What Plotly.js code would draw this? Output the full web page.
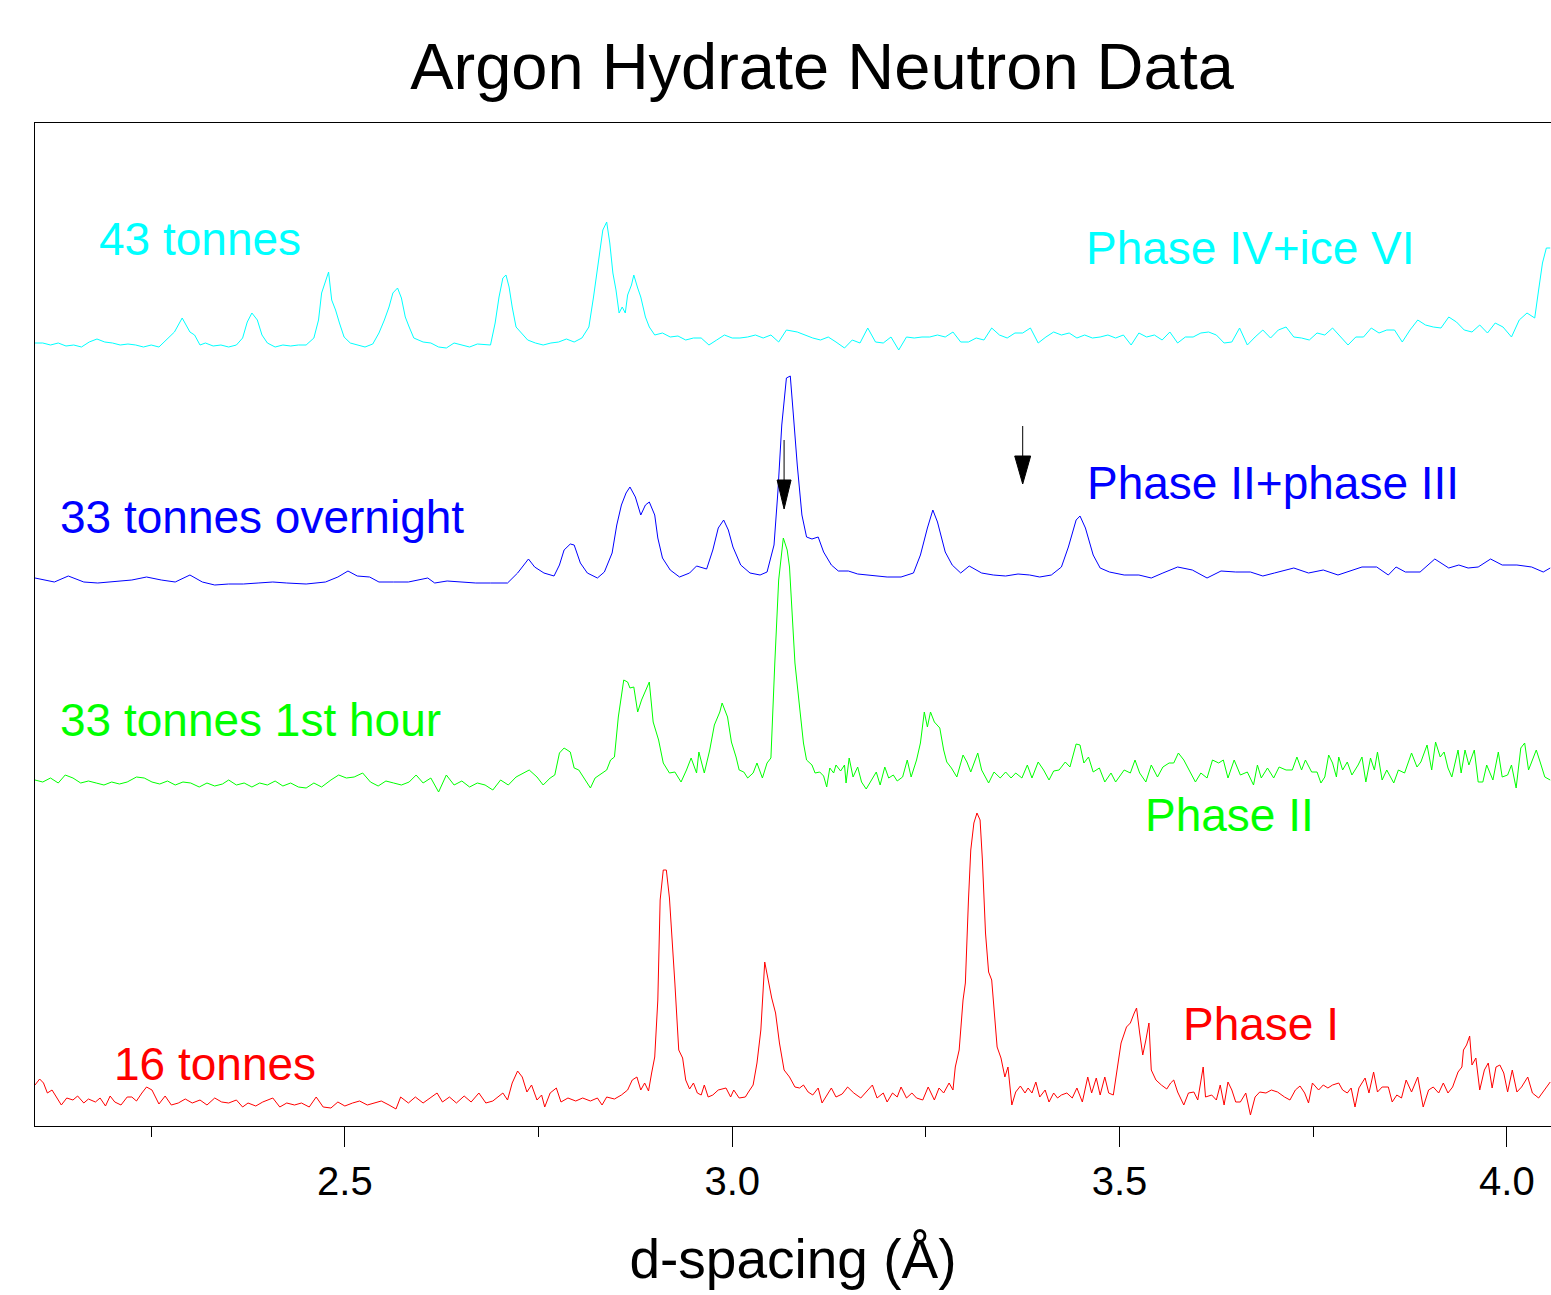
<!DOCTYPE html>
<html><head><meta charset="utf-8">
<script src="https://cdn.plot.ly/plotly-3.0.1.min.js"></script>
<style>html,body{margin:0;padding:0;background:#fff}</style>
</head><body><div id="chart" style="width:1551px;height:1295px"></div>
<script>
// d-spacing (Å) and intensity (arbitrary offset counts)
const dCyan=[2.100,2.110,2.120,2.130,2.140,2.150,2.160,2.170,2.180,2.190,
2.200,2.210,2.220,2.230,2.240,2.250,2.260,2.270,2.280,2.290,
2.295,2.300,2.306,2.313,2.320,2.330,2.340,2.350,2.360,2.368,
2.374,2.380,2.387,2.393,2.400,2.410,2.420,2.430,2.440,2.450,
2.460,2.466,2.470,2.479,2.483,2.488,2.493,2.499,2.507,2.515,
2.526,2.536,2.544,2.551,2.557,2.562,2.568,2.573,2.578,2.583,
2.589,2.601,2.611,2.621,2.631,2.641,2.651,2.661,2.671,2.681,
2.688,2.694,2.699,2.704,2.708,2.712,2.716,2.721,2.727,2.736,
2.746,2.756,2.766,2.776,2.786,2.796,2.806,2.815,2.821,2.827,
2.833,2.838,2.842,2.846,2.850,2.854,2.858,2.862,2.865,2.870,
2.873,2.878,2.882,2.888,2.893,2.900,2.910,2.920,2.930,2.940,
2.950,2.960,2.970,2.980,2.990,3.000,3.010,3.020,3.030,3.040,
3.050,3.060,3.070,
3.084,3.094,3.104,3.114,3.124,3.134,3.145,3.155,3.165,3.175,
3.185,3.195,3.205,3.215,3.225,3.235,3.245,3.255,3.265,3.275,
3.285,3.295,3.305,3.315,3.325,3.335,3.345,3.355,3.365,3.375,
3.385,3.395,3.405,3.415,3.425,3.435,3.445,3.455,3.465,3.475,
3.485,3.495,3.505,3.515,3.525,3.535,3.545,3.555,3.565,3.575,
3.585,3.595,3.605,3.615,3.625,3.635,3.645,3.655,3.665,3.675,
3.685,3.695,3.705,3.715,3.725,3.735,3.745,3.755,3.765,3.775,
3.785,3.795,3.805,3.815,3.825,3.835,3.845,3.855,3.865,3.875,
3.885,3.895,3.905,3.915,3.925,3.935,3.945,3.955,3.965,3.975,
3.985,3.995,4.006,4.016,4.026,4.036,4.041,4.046,4.051,4.056];
const iCyan=[783,783,781,783,780,781,779,784,787,784,
783,781,782,781,779,781,779,786,794,808,
801,794,791,781,783,780,781,779,781,788,
804,813,806,791,783,779,781,780,781,781,
788,806,833,854,826,816,803,789,783,781,
779,782,793,806,819,833,838,828,809,799,
788,784,783,779,778,783,781,779,782,781,
781,803,829,848,851,839,819,799,794,786,
783,781,783,784,787,784,788,799,829,863,
896,904,883,853,836,813,819,813,831,841,
851,838,829,809,799,791,793,789,790,786,
788,788,781,786,791,788,788,789,791,788,
791,784,796,
794,791,788,786,789,784,778,786,783,798,
784,783,789,776,789,788,789,789,791,789,
794,784,784,788,786,798,791,788,793,793,
798,783,789,794,791,793,788,791,788,789,
791,788,791,781,793,789,791,786,794,783,
789,789,793,794,791,783,784,798,781,789,
796,788,796,799,789,788,786,793,791,798,
789,781,789,789,798,793,796,796,784,796,
806,801,799,798,809,804,796,794,801,793,
803,799,789,806,813,808,836,863,878,878];

const dBlue=[2.100,2.125,2.143,2.163,2.181,2.200,2.225,2.244,2.263,2.281,
2.300,2.316,2.332,2.350,2.369,2.388,2.407,2.425,2.450,2.475,
2.491,2.504,2.516,2.532,2.544,2.563,2.582,2.607,2.616,2.632,
2.651,2.669,2.688,2.710,2.723,2.737,2.745,2.757,2.770,2.777,
2.783,2.791,2.796,2.804,2.813,2.826,2.835,2.845,2.851,2.857,
2.863,2.868,2.875,2.882,2.888,2.893,2.900,2.904,2.910,2.920,
2.932,2.945,2.954,2.967,2.975,2.982,2.989,2.995,3.001,3.011,
3.023,3.036,3.045,3.054,3.059,3.064,3.070,3.075,
3.079,3.084,3.090,3.096,3.103,3.111,3.118,3.128,3.137,3.150,
3.162,3.175,3.187,3.200,3.218,3.234,3.243,3.252,3.259,3.265,
3.275,3.284,3.295,3.306,3.322,3.337,3.353,3.369,3.384,3.397,
3.412,3.425,3.434,3.444,3.449,3.456,3.466,3.475,3.487,3.506,
3.525,3.541,3.556,3.575,3.594,3.613,3.631,3.650,3.669,3.685,
3.700,3.725,3.744,3.763,3.782,3.800,3.813,3.832,3.847,3.857,
3.869,3.888,3.907,3.925,3.938,3.950,3.963,3.979,3.994,4.013,
4.032,4.047,4.056];
const iBlue=[548,544,550,544,543,544,546,549,546,544,
551,544,541,542,542,543,544,543,542,544,
549,555,550,549,544,544,544,548,543,545,
544,543,543,543,553,567,559,553,550,561,
576,582,581,563,553,548,554,573,601,621,
633,639,629,611,621,624,611,588,568,556,
549,553,560,557,576,598,606,596,579,561,
553,551,554,581,634,701,748,750,
711,661,611,589,587,589,574,561,555,555,
552,551,550,549,549,553,571,598,616,604,
574,561,553,560,553,551,550,552,551,549,
551,559,579,606,610,598,571,558,554,551,
551,548,553,559,556,548,555,554,554,550,
553,558,553,556,551,556,559,559,551,559,
554,554,567,558,561,558,559,567,561,561,
559,554,558];

const dGreen=[2.100,2.110,2.120,2.130,2.139,2.149,2.159,2.169,2.179,2.189,
2.199,2.209,2.219,2.231,2.241,2.251,2.261,2.271,2.281,2.291,
2.301,2.312,2.322,2.332,2.342,2.350,2.360,2.370,2.380,2.390,
2.400,2.410,2.420,2.430,2.440,2.450,2.460,2.470,2.482,2.492,
2.502,2.512,2.523,2.533,2.543,2.553,2.563,2.573,2.583,2.592,
2.601,2.611,2.621,2.631,2.641,2.651,2.661,2.671,2.681,2.691,
2.701,2.711,2.721,2.731,2.738,2.748,2.756,2.765,2.771,2.777,
2.783,2.791,2.796,2.802,2.808,2.817,2.823,2.832,2.838,2.843,
2.848,2.853,2.860,2.865,2.868,2.873,2.878,2.883,2.888,2.893,
2.898,2.905,2.911,2.919,2.926,2.934,2.941,2.947,2.954,2.957,
2.964,2.971,2.977,2.984,2.987,2.994,2.999,3.005,3.009,3.015,
3.020,3.027,3.032,3.039,3.045,3.050,3.055,3.060,3.066,3.071,
3.074,3.081,3.087,3.092,3.096,3.103,3.107,3.113,3.118,3.122,
3.126,3.131,3.134,3.140,3.145,3.147,3.151,3.156,3.162,3.167,
3.173,3.180,3.186,3.191,3.197,3.202,3.208,3.213,3.220,3.226,
3.231,3.238,3.243,3.248,3.252,3.256,3.261,3.268,3.273,3.277,
3.283,3.290,3.293,3.298,3.303,3.308,3.317,3.322,3.331,3.338,
3.346,3.353,3.360,3.366,3.374,3.381,3.387,3.395,3.402,3.409,
3.415,3.422,3.430,3.436,3.444,3.449,3.454,3.460,3.466,3.474,
3.481,3.489,3.495,3.506,3.514,3.520,3.526,3.534,3.541,3.549,
3.556,3.564,3.570,3.576,3.583,3.591,3.598,3.605,3.613,3.620,
3.628,3.634,3.640,3.648,3.656,3.665,3.673,3.678,3.683,3.691,
3.699,3.706,3.715,3.723,3.729,3.735,3.740,3.748,3.755,3.760,
3.765,3.770,3.775,3.780,3.783,3.788,3.794,3.800,3.808,3.813,
3.818,3.824,3.829,3.833,3.839,3.845,3.854,3.860,3.868,3.877,
3.884,3.889,3.897,3.903,3.908,3.914,3.919,3.924,3.929,3.937,
3.941,3.946,3.951,3.958,3.963,3.969,3.974,3.982,3.989,3.994,
4.001,4.006,4.012,4.018,4.023,4.028,4.033,4.038,4.043,4.049,
4.056];
const iGreen=[346,344,348,343,351,348,343,345,343,341,
344,342,344,349,348,344,342,345,341,344,
343,339,343,340,342,346,341,343,339,343,
341,345,340,343,339,338,343,339,346,351,
348,349,353,344,340,345,343,341,344,351,
343,348,334,351,341,345,339,343,341,336,
346,341,349,353,356,349,341,348,351,373,
378,374,358,356,349,338,348,353,356,366,
369,409,446,444,438,439,414,426,436,444,
404,386,363,353,354,344,356,368,353,374,
353,376,401,414,423,409,384,369,356,354,
348,353,363,348,363,368,463,546,588,576,
559,463,419,383,366,361,353,354,350,339,
358,353,361,355,361,343,368,349,359,344,
337,346,354,341,359,348,351,345,349,366,
349,366,383,414,399,414,404,398,376,364,
358,349,358,371,364,354,373,356,343,354,
348,354,348,353,348,361,348,364,356,346,
355,356,364,359,382,381,363,369,354,358,
344,353,344,356,353,366,353,344,361,349,
359,363,363,373,366,354,344,353,348,366,
363,366,348,366,351,354,341,361,348,358,
348,359,356,356,369,356,366,354,354,343,
349,371,363,349,369,356,364,351,361,369,
344,368,356,374,346,356,343,356,353,373,
359,364,381,356,384,369,374,358,349,376,
353,376,361,376,344,344,361,346,374,349,
351,361,338,378,383,356,366,376,364,349,
346];

const dRed=[2.100,2.106,2.111,2.116,2.122,2.128,2.134,2.141,2.149,2.155,
2.163,2.169,2.178,2.184,2.191,2.197,2.203,2.211,2.219,2.225,
2.231,2.238,2.244,2.251,2.260,2.268,2.276,2.285,2.294,2.303,
2.313,2.322,2.332,2.341,2.350,2.360,2.368,2.375,2.385,2.394,
2.407,2.416,2.425,2.435,2.444,2.454,2.463,2.472,2.482,2.491,
2.500,2.510,2.519,2.529,2.538,2.547,2.557,2.566,2.572,2.582,
2.591,2.601,2.610,2.619,2.626,2.635,2.644,2.654,2.663,2.673,
2.682,2.691,2.704,2.710,2.716,2.723,2.729,2.735,2.741,2.748,
2.754,2.758,2.765,2.773,2.779,2.788,2.798,2.807,2.817,2.826,
2.832,2.838,2.848,2.857,2.865,2.871,2.877,2.882,2.887,2.892,
2.896,2.900,2.904,2.907,2.911,2.915,2.919,2.922,2.926,2.931,
2.936,2.940,2.945,2.950,2.955,2.960,2.964,2.969,2.975,2.982,
2.992,2.998,3.002,3.009,3.017,3.021,3.027,3.032,3.037,3.042,
3.046,3.051,3.056,3.061,3.067,3.074,3.081,3.087,3.092,3.098,
3.104,3.111,3.116,3.122,3.128,3.134,3.142,3.149,3.157,3.166,
3.173,3.181,3.187,3.195,3.200,3.207,3.213,3.218,3.225,3.232,
3.238,3.246,3.253,3.261,3.267,3.273,3.280,3.285,3.288,3.293,
3.298,3.301,3.305,3.308,3.312,3.316,3.320,3.323,3.327,3.331,
3.335,3.339,3.342,3.347,3.352,3.356,3.361,3.366,3.372,3.378,
3.382,3.387,3.392,3.397,3.404,3.409,3.415,3.420,3.425,3.432,
3.439,3.445,3.452,3.459,3.464,3.470,3.475,3.481,3.486,3.492,
3.497,3.502,3.509,3.514,3.519,3.522,3.526,3.530,3.534,3.538,
3.541,3.547,3.554,3.561,3.566,3.570,3.575,3.583,3.589,3.596,
3.601,3.608,3.611,3.619,3.625,3.630,3.635,3.640,3.645,3.650,
3.656,3.663,3.669,3.675,3.681,3.689,3.696,3.704,3.713,3.720,
3.727,3.733,3.739,3.744,3.749,3.757,3.763,3.769,3.775,3.783,
3.788,3.794,3.799,3.804,3.809,3.817,3.822,3.828,3.833,3.839,
3.847,3.852,3.858,3.864,3.870,3.877,3.885,3.892,3.899,3.905,
3.912,3.918,3.924,3.930,3.937,3.942,3.944,3.948,3.952,3.955,
3.960,3.965,3.971,3.976,3.981,3.986,3.991,3.996,4.001,4.007,
4.013,4.019,4.027,4.033,4.041,4.048,4.056];
const iRed=[41,47,43,33,36,29,21,28,26,30,
23,27,24,28,20,30,24,21,29,29,
25,33,39,36,22,30,21,23,27,23,
26,21,28,24,23,26,19,23,20,24,
28,19,23,21,23,19,29,19,18,24,
20,23,25,21,23,25,21,17,29,23,
29,23,28,33,24,29,23,30,24,33,
23,25,33,26,43,55,49,34,41,26,
31,19,33,38,24,28,25,28,25,28,
21,29,27,31,36,46,49,36,43,35,
53,69,126,226,256,256,228,186,143,76,
68,46,37,43,33,31,41,29,31,36,
38,29,36,28,29,34,41,63,96,164,
149,128,113,83,56,49,39,38,41,34,
31,38,23,31,38,29,32,39,33,28,
34,41,28,33,24,33,29,39,28,33,
28,26,39,26,38,33,43,36,59,76,
126,143,226,276,303,313,306,266,193,154,
146,109,79,68,49,59,21,34,40,33,
38,33,44,29,36,24,33,28,31,33,
28,38,24,49,33,48,31,49,33,31,
58,83,99,103,113,118,93,71,86,103,
56,46,41,37,43,46,34,21,33,34,
26,59,29,31,26,41,21,44,36,24,
24,33,11,29,34,33,36,34,29,26,
36,40,33,23,43,36,41,38,41,43,
36,33,38,19,38,48,33,54,34,39,
39,24,31,28,46,34,49,19,36,39,
33,43,33,39,54,59,76,81,90,61,
68,36,56,63,38,59,61,53,34,56,
34,39,49,33,28,36,44];

const seriesNames=['43 tonnes','33 tonnes overnight','33 tonnes 1st hour','16 tonnes'];
const phaseNames=['Phase IV+ice VI','Phase II+phase III','Phase II','Phase I'];
const tickVals=[2.5,3.0,3.5,4.0];
const tickText=['2.5','3.0','3.5','4.0'];

// arrows marking weak reflections: position (Å), shaft top, head base, tip (intensity units)
const arrowD=[3.067,3.375];
const arrowTop=[686,700];
const arrowBase=[646,670];
const arrowTip=[617,642];

const colors=['#00FFFF','#0000FF','#00FF00','#FF0000'];
const sets=[[dCyan,iCyan],[dBlue,iBlue],[dGreen,iGreen],[dRed,iRed]];
sets.forEach((s,k)=>{ if(s[0].length!==s[1].length) throw new Error('length mismatch in '+seriesNames[k]+': '+s[0].length+' vs '+s[1].length); });

const traces=sets.map((s,k)=>({
  type:'scatter', mode:'lines', x:s[0], y:s[1], name:seriesNames[k],
  line:{color:colors[k], width:1}, hoverinfo:'x+y+name'
}));

const FONT='"Liberation Sans", Arial, Helvetica, sans-serif';
const LBL=46;
// label anchor positions (data coords)
const sLabelPos=[[2.180,887],[2.1295,609],[2.1295,406],[2.1992,62]];
const pLabelPos=[[3.4545,878],[3.456,643],[3.530,311],[3.580,102]];
const annotations=[];
sLabelPos.forEach((p,k)=>annotations.push({x:p[0],y:p[1],xref:'x',yref:'y',text:seriesNames[k],showarrow:false,xanchor:'left',yanchor:'middle',font:{family:FONT,size:LBL,color:colors[k]}}));
pLabelPos.forEach((p,k)=>annotations.push({x:p[0],y:p[1],xref:'x',yref:'y',text:phaseNames[k],showarrow:false,xanchor:'left',yanchor:'middle',font:{family:FONT,size:LBL,color:colors[k]}}));

const shapes=[];
arrowD.forEach((d,k)=>{
  const hw=k===0?0.009:0.0103;
  shapes.push({type:'line',xref:'x',yref:'y',x0:d,x1:d,y0:arrowTop[k],y1:arrowBase[k],line:{color:'black',width:1}});
  shapes.push({type:'path',xref:'x',yref:'y',path:`M ${d-hw},${arrowBase[k]} L ${d+hw},${arrowBase[k]} L ${d},${arrowTip[k]} Z`,fillcolor:'black',line:{color:'black',width:1}});
});

const layout={
  width:1551, height:1295,
  margin:{l:35,r:0,t:123,b:169,pad:0},
  paper_bgcolor:'white', plot_bgcolor:'white',
  font:{family:FONT,color:'black'},
  showlegend:false,
  title:{text:'Argon Hydrate Neutron Data',font:{family:FONT,size:65,color:'black'},
         xref:'container',x:0.53,xanchor:'center',yref:'container',y:0.949,yanchor:'middle'},
  xaxis:{range:[2.1,4.057],tickvals:tickVals,ticktext:tickText,ticks:'outside',ticklen:20,tickwidth:1,tickcolor:'black',
         minor:{tickvals:[2.25,2.75,3.25,3.75],ticks:'outside',ticklen:10,tickwidth:1,tickcolor:'black',showgrid:false},
         showline:true,linecolor:'black',linewidth:1,mirror:true,showgrid:false,zeroline:false,
         tickfont:{family:FONT,size:40,color:'black'},
         title:{text:'d-spacing (Å)',font:{family:FONT,size:55,color:'black'},standoff:37}},
  yaxis:{range:[0,1003],showticklabels:false,ticks:'',showline:true,linecolor:'black',linewidth:1,mirror:true,showgrid:false,zeroline:false},
  annotations:annotations, shapes:shapes
};
Plotly.newPlot('chart',traces,layout,{staticPlot:true,displayModeBar:false});
</script></body></html>
